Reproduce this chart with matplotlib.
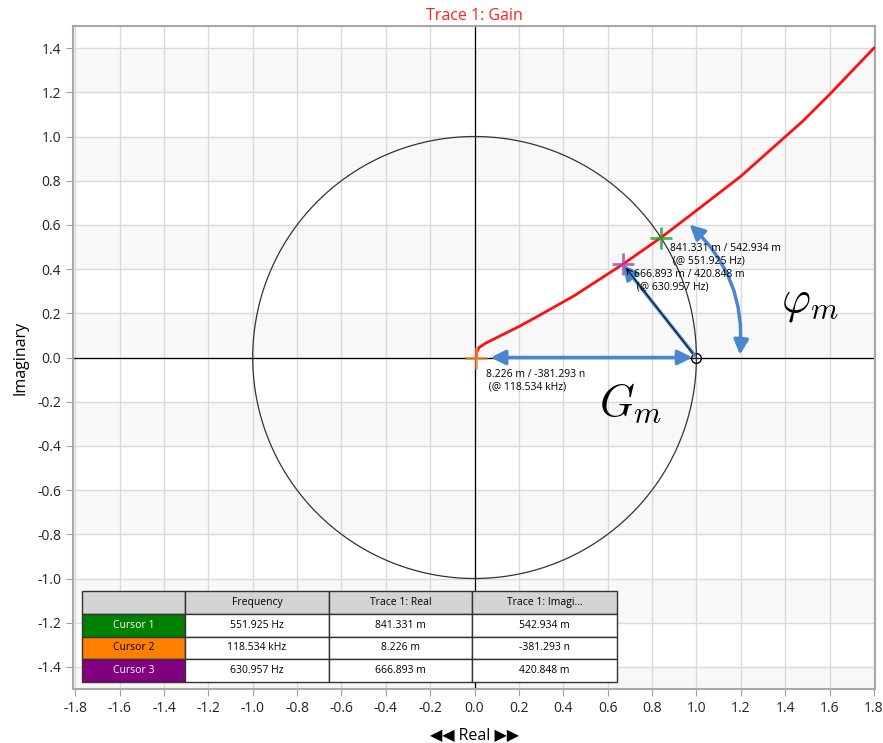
import numpy as np
import matplotlib.pyplot as plt
from matplotlib.patches import FancyArrowPatch

plt.rcParams['font.family'] = ['Open Sans', 'DejaVu Sans']
plt.rcParams['mathtext.fontset'] = 'cm'

# Nyquist trace (real / imaginary)
trace_re = [0.008, 0.01, 0.02, 0.05, 0.1, 0.2, 0.3, 0.45, 0.667, 0.841, 1.0, 1.2, 1.48, 1.6, 1.8]
trace_im = [0.0, 0.025, 0.045, 0.065, 0.09, 0.14, 0.195, 0.28, 0.421, 0.543, 0.665, 0.82, 1.07, 1.19, 1.4]

cursor_names = ['Cursor 1', 'Cursor 2', 'Cursor 3']
cursor_re = [0.841331, 0.008226, 0.666893]
cursor_im = [0.542934, -3.81293e-7, 0.420848]
cursor_freq = ['551.925 Hz', '118.534 kHz', '630.957 Hz']
cursor_re_txt = ['841.331 m', '8.226 m', '666.893 m']
cursor_im_txt = ['542.934 m', '-381.293 n', '420.848 m']
cursor_colors = ['#2e9a2e', '#f08a30', '#b040b0']
cell_colors = ['#008000', '#ff8000', '#800080']
cell_text_colors = ['white', 'black', 'white']

xticks = np.round(np.arange(-1.8, 1.81, 0.2), 1)
yticks = np.round(np.arange(-1.4, 1.41, 0.2), 1)

fig = plt.figure(figsize=(8.83, 7.43), dpi=100)
ax = fig.add_axes([73 / 883, 1 - 689 / 743, 802 / 883, 663 / 743])
ax.set_xlim(-1.81, 1.805)
ax.set_ylim(-1.5, 1.5)

# alternating background bands
for y0 in np.arange(-1.6, 1.5, 0.4):
    ax.axhspan(y0, y0 + 0.2, color='#f8f8f8', zorder=0, lw=0)

ax.set_xticks(xticks)
ax.set_yticks(yticks)
ax.set_xticklabels([f'{v:.1f}'.replace('-0.0', '0.0') for v in xticks])
ax.set_yticklabels([f'{v:.1f}'.replace('-0.0', '0.0') for v in yticks])
ax.grid(True, color='#dadada', lw=1, zorder=1)
ax.tick_params(colors='#a0a0a0', labelcolor='#222222', labelsize=10, length=5)
for s in ax.spines.values():
    s.set_color('#a8a8a8')
    s.set_linewidth(1.5)

ax.axhline(0, color='black', lw=0.9, zorder=2)
ax.axvline(0, color='black', lw=0.9, zorder=2)

th = np.linspace(0, 2 * np.pi, 400)
ax.plot(np.cos(th), np.sin(th), color='#333333', lw=0.9, zorder=2)

ax.plot(trace_re, trace_im, color='#ff1010', lw=2, zorder=4)

for x, y, c in zip(cursor_re, cursor_im, cursor_colors):
    ax.plot(x, y, marker='+', ms=16, mew=2, color=c, alpha=0.8, zorder=5)
ax.plot(1, 0, marker='o', ms=7, mfc='none', mec='black', mew=1, zorder=5)

blue = '#4a86cf'
ax.add_patch(FancyArrowPatch((0.06, 0), (0.995, 0), arrowstyle='<|-|>', mutation_scale=22,
                             color=blue, lw=2.5, zorder=6))
ax.add_patch(FancyArrowPatch((1.0, 0), (0.66, 0.43), arrowstyle='-|>', mutation_scale=22,
                             color=blue, lw=2.5, zorder=6))
ax.add_patch(FancyArrowPatch((0.96, 0.61), (1.195, 0.0), arrowstyle='<|-|>', mutation_scale=22,
                             connectionstyle='arc3,rad=-0.25', color=blue, lw=2.5, zorder=6))
ax.annotate('', xy=(0.675, 0.415), xytext=(0.99, 0.01),
            arrowprops=dict(arrowstyle='->', color='black', lw=0.7), zorder=7)

ax.text(0.88, 0.52, f'{cursor_re_txt[0]} / {cursor_im_txt[0]}\n (@ {cursor_freq[0]})',
        fontsize=7.5, va='top', zorder=8)
ax.text(0.72, 0.4, f'{cursor_re_txt[2]} / {cursor_im_txt[2]}\n (@ {cursor_freq[2]})',
        fontsize=7.5, va='top', zorder=8)
ax.text(0.05, -0.05, f'{cursor_re_txt[1]} / {cursor_im_txt[1]}\n (@ {cursor_freq[1]})',
        fontsize=7.5, va='top', zorder=8)

ax.text(1.38, 0.25, r'$\varphi_m$', fontsize=32, ha='left', va='center', zorder=8)
ax.text(0.56, -0.21, r'$G_m$', fontsize=32, ha='left', va='center', zorder=8)

ax.set_title('Trace 1: Gain', color='#ff2020', fontsize=11.5, pad=4)
ax.set_xlabel('\u25c0\u25c0 Real \u25b6\u25b6', fontsize=11.5, labelpad=8)
ax.set_ylabel('Imaginary', fontsize=11.5, labelpad=6)

# cursor table
tax = fig.add_axes([82 / 883, 1 - 682 / 743, 535 / 883, 91 / 743])
tax.axis('off')
rows = [[n, f, r, i] for n, f, r, i in zip(cursor_names, cursor_freq, cursor_re_txt, cursor_im_txt)]
tbl = tax.table(cellText=rows, colLabels=['', 'Frequency', 'Trace 1: Real', 'Trace 1: Imagi...'],
                colWidths=[103, 144, 143, 145], cellLoc='center', bbox=[0, 0, 1, 1])
tbl.auto_set_font_size(False)
for (r, c), cell in tbl.get_celld().items():
    cell.set_edgecolor('#333333')
    cell.set_linewidth(1)
    cell.get_text().set_fontsize(7.5)
    if r == 0:
        cell.set_facecolor('#d4d4d4')
    elif c == 0:
        cell.set_facecolor(cell_colors[r - 1])
        cell.get_text().set_color(cell_text_colors[r - 1])
    else:
        cell.set_facecolor('white')

fig.savefig('out.png', dpi=100)
